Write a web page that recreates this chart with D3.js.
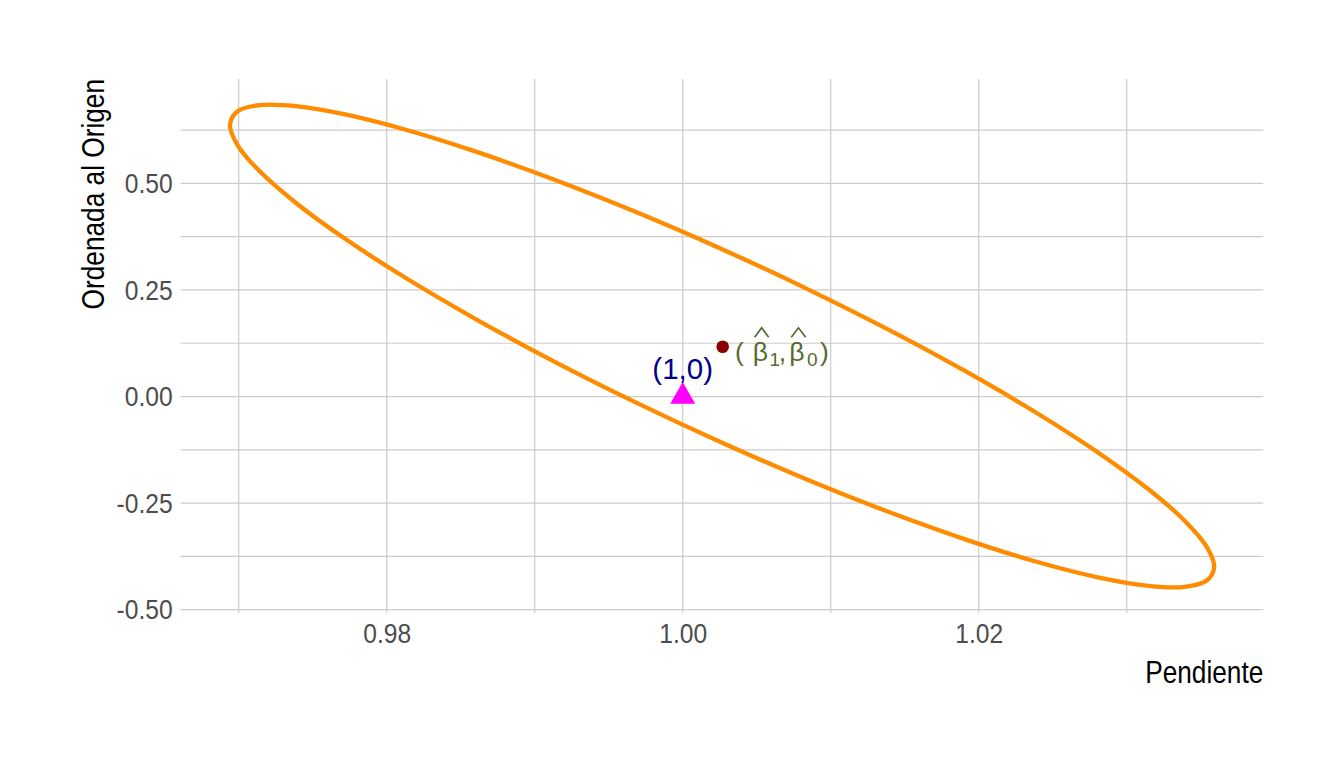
<!DOCTYPE html>
<html><head><meta charset="utf-8">
<script src="https://cdn.jsdelivr.net/npm/d3@7"></script>
<style>body{margin:0;background:#fff} svg{display:block}</style>
</head><body><svg id="c" width="1344" height="768"></svg>
<script>
// ---- data ----
const ellipseX = [1.03591,1.03541,1.03391,1.03146,1.02813,1.02403,1.01929,1.01403,1.00843,1.00266,
  0.99689,0.99129,0.98604,0.98129,0.97719,0.97387,0.97142,0.96992,0.96941,0.96991,
  0.97141,0.97386,0.97719,0.98129,0.98603,0.99129,0.99689,1.00266,1.00843,1.01403,
  1.01928,1.02403,1.02813,1.03145,1.03391,1.03541];
const ellipseY = [-0.4000,-0.4316,-0.4464,-0.4440,-0.4246,-0.3887,-0.3373,-0.2721,-0.1951,-0.1085,
  -0.0150,0.0825,0.1812,0.2779,0.3698,0.4540,0.5281,0.5897,0.6370,0.6686,
  0.6834,0.6810,0.6616,0.6257,0.5743,0.5091,0.4321,0.3455,0.2520,0.1545,
  0.0558,-0.0409,-0.1328,-0.2170,-0.2911,-0.3527];
const estimateX = [1.0027];
const estimateY = [0.1169];
const referenceX = [1.0];
const referenceY = [0.0];
const referenceLabel = "(1,0)";
const xMajor = [0.98, 1.00, 1.02];
const xMinor = [0.97, 0.99, 1.01, 1.03];
const xTickLabels = ["0.98", "1.00", "1.02"];
const yMajor = [-0.5, -0.25, 0, 0.25, 0.5];
const yMinor = [-0.375, -0.125, 0.125, 0.375, 0.625];
const yTickLabels = ["-0.50", "-0.25", "0.00", "0.25", "0.50"];
const xTitle = "Pendiente";
const yTitle = "Ordenada al Origen";

// ---- layout ----
const FONT = "'Liberation Sans', Arial, sans-serif";
const L = 180.7, R = 1263.3, T = 79, B = 613;
const svg = d3.select("#c");
const x = d3.scaleLinear().domain([0.96608, 1.03923]).range([L, R]);
const y = d3.scaleLinear().domain([-0.5077, 0.7447]).range([B, T]);

// grid
const grid = svg.append("g").attr("stroke", "#CCCCCC").attr("stroke-width", 1.2);
grid.selectAll("line.v").data(xMinor.concat(xMajor)).join("line")
  .attr("x1", d => x(d)).attr("x2", d => x(d)).attr("y1", T).attr("y2", B);
grid.selectAll("line.h").data(yMinor.concat(yMajor)).join("line")
  .attr("y1", d => y(d)).attr("y2", d => y(d)).attr("x1", L).attr("x2", R);

// axes (labels only)
const kTick = 0.865, fTick = 28.5;
const ax = svg.append("g").attr("transform", `translate(0,${B})`)
  .call(d3.axisBottom(x).tickValues(xMajor).tickFormat((d, i) => xTickLabels[i]).tickSize(0).tickPadding(10));
ax.select(".domain").remove();
ax.selectAll("text").attr("font-family", FONT).attr("font-size", fTick).attr("fill", "#4D4D4D")
  .attr("transform", `scale(${kTick},1)`);

const ay = svg.append("g").attr("transform", `translate(${L},0)`)
  .call(d3.axisLeft(y).tickValues(yMajor).tickFormat((d, i) => yTickLabels[i]).tickSize(0).tickPadding(8));
ay.select(".domain").remove();
ay.selectAll("text").attr("font-family", FONT).attr("font-size", fTick).attr("fill", "#4D4D4D")
  .attr("x", -8 / kTick).attr("transform", `scale(${kTick},1)`);

// axis titles
const kTitle = 0.82, fTitle = 32;
svg.append("text").text(xTitle)
  .attr("transform", `translate(${R},683) scale(${kTitle},1)`)
  .attr("text-anchor", "end").attr("font-family", FONT).attr("font-size", fTitle).attr("fill", "#000");
svg.append("text").text(yTitle)
  .attr("transform", `translate(104,${T}) rotate(-90) scale(${kTitle},1)`)
  .attr("text-anchor", "end").attr("font-family", FONT).attr("font-size", fTitle).attr("fill", "#000");

// ellipse
const pts = ellipseX.map((v, i) => [v, ellipseY[i]]);
svg.append("path")
  .attr("d", d3.line().x(d => x(d[0])).y(d => y(d[1])).curve(d3.curveCatmullRomClosed.alpha(0.5))(pts))
  .attr("fill", "none").attr("stroke", "#FF8C00").attr("stroke-width", 4.3).attr("stroke-linejoin", "round");

// reference triangle + label
svg.selectAll("path.ref").data(referenceX).join("path")
  .attr("transform", (d, i) => `translate(${x(d)},${y(referenceY[i])})`)
  .attr("d", d3.symbol(d3.symbolTriangle, 270)())
  .attr("fill", "#FF00FF");
svg.append("text").text(referenceLabel)
  .attr("x", x(referenceX[0])).attr("y", y(referenceY[0]) - 17.3)
  .attr("text-anchor", "middle").attr("font-family", FONT).attr("font-size", 29.5).attr("fill", "#00008B");

// estimate point + label
svg.selectAll("circle.est").data(estimateX).join("circle")
  .attr("cx", d => x(d)).attr("cy", (d, i) => y(estimateY[i])).attr("r", 6.3).attr("fill", "#8B0000");

const gx = x(estimateX[0]), gy = y(estimateY[0]);
const lab = svg.append("g").attr("transform", `translate(${gx},${gy})`)
  .attr("fill", "#556B2F").attr("font-family", FONT);
const t = lab.append("text");
const parts = [
  {s: "(", dx: 12.3, dy: 14.5, f: 26.5},
  {s: "β", dx: 30.0, dy: 14.5, f: 26.5},
  {s: "1", dx: 46.8, dy: 19.0, f: 19},
  {s: ",", dx: 56.0, dy: 14.5, f: 26.5},
  {s: "β", dx: 66.6, dy: 14.5, f: 26.5},
  {s: "0", dx: 84.4, dy: 19.0, f: 19},
  {s: ")", dx: 97.3, dy: 14.5, f: 26.5}
];
parts.forEach(p => t.append("tspan").attr("x", p.dx).attr("y", p.dy).attr("font-size", p.f).text(p.s));
// hats over the betas (plotmath hat decoration)
[[32.0, 46.0], [68.6, 83.0]].forEach(([a, b]) => {
  lab.append("path")
    .attr("d", `M${a},-9.5 L${(a + b) / 2},-18.9 L${b},-9.5`)
    .attr("fill", "none").attr("stroke", "#556B2F").attr("stroke-width", 1.7);
});
</script></body></html>
